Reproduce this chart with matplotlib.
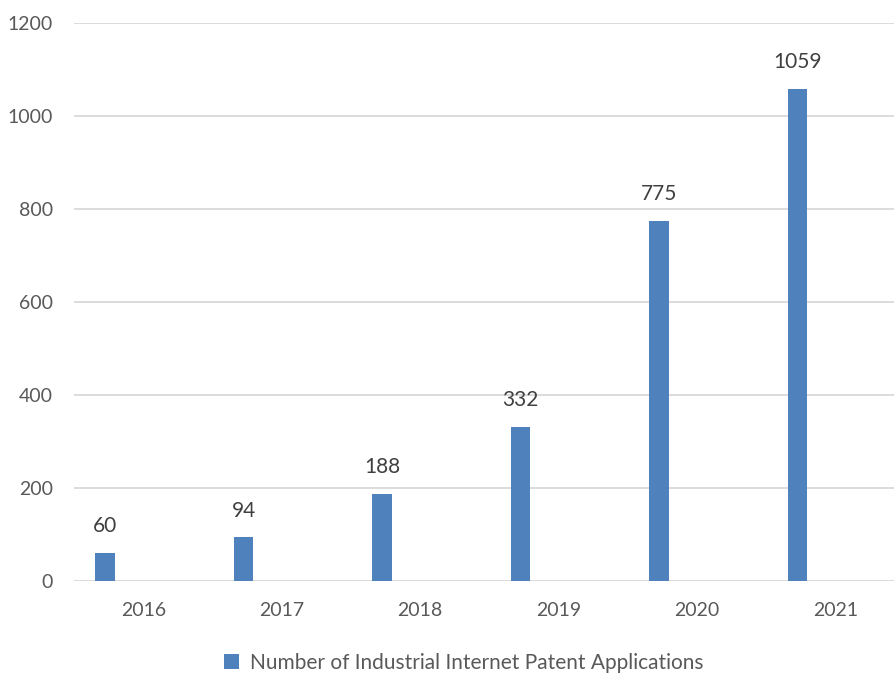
import numpy as np
import matplotlib.pyplot as plt

years = ["2016", "2017", "2018", "2019", "2020", "2021"]
applications = [60, 94, 188, 332, 775, 1059]
series_name = "Number of Industrial Internet Patent Applications"

plt.rcParams['font.family'] = ['Lato', 'DejaVu Sans']
text_color = '#595959'
bar_color = '#4F81BD'

fig = plt.figure(figsize=(8.95, 6.75), dpi=100)
ax = fig.add_axes([0.0827, 0.1393, 0.9173, 0.8266])

x = np.arange(len(years))
bars = ax.bar(x - 0.275, applications, width=0.14, color=bar_color,
              label=series_name, zorder=3)

for xi, v in zip(x, applications):
    ax.annotate(str(v), (xi - 0.275, v), xytext=(0, 12), textcoords='offset points',
                ha='center', va='bottom', fontsize=15, color='#404040')

ax.set_xlim(-0.5, 5.428)
ax.set_ylim(0, 1200)
ax.set_yticks(range(0, 1201, 200))
ax.set_xticks(x)
ax.set_xticklabels(years)
ax.grid(axis='y', color='#D9D9D9', linewidth=1.3, zorder=0)
ax.tick_params(axis='both', length=0, labelsize=14, colors=text_color)
ax.tick_params(axis='y', pad=15)
ax.tick_params(axis='x', pad=15)
for s in ax.spines.values():
    s.set_visible(False)

leg = fig.legend(handles=[bars], labels=[series_name], loc='center',
                 bbox_to_anchor=(0.518, 0.018), frameon=False, fontsize=15,
                 handlelength=0.75, handleheight=0.75, handletextpad=0.5)
for t in leg.get_texts():
    t.set_color(text_color)

fig.savefig('out.png', dpi=100)
